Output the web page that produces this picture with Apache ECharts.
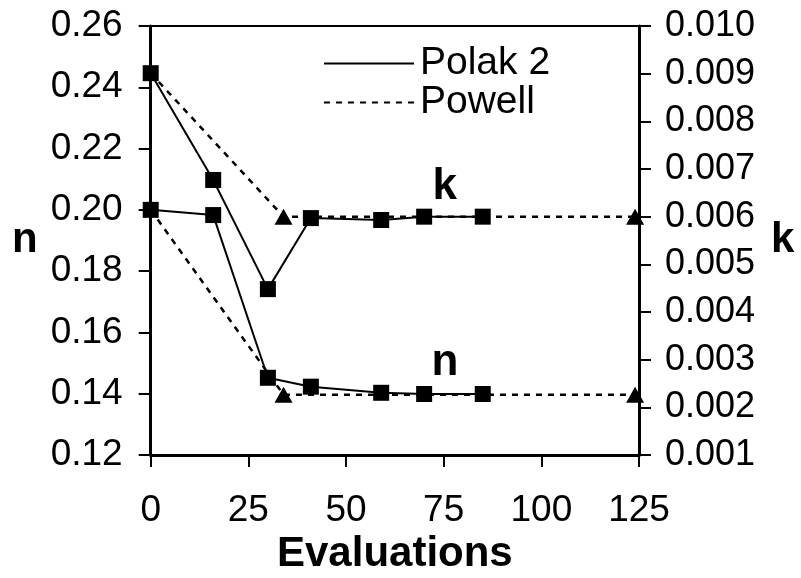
<!DOCTYPE html>
<html>
<head>
<meta charset="utf-8">
<script src="https://cdn.jsdelivr.net/npm/echarts@6/dist/echarts.min.js"></script>
<style>
  html, body { margin: 0; padding: 0; background: #fff; }
  #chart { width: 801px; height: 578px; }
</style>
</head>
<body>
<div id="chart"></div>
<script>
// evaluations (x) for each method
const polakEvals = [0, 16, 30, 41, 59, 70, 85];
const polakN = [0.2000, 0.1983, 0.1452, 0.1423, 0.1403, 0.1399, 0.1399];
const polakK = [0.00901, 0.00677, 0.00448, 0.00597, 0.00593, 0.00600, 0.00600];

const powellEvals = [0, 34, 124];
const powellN = [0.2000, 0.1397, 0.1397];
const powellK = [0.00901, 0.00600, 0.00600];

const xTicks = [0, 25, 50, 75, 100, 125];
const nTicks = [0.12, 0.14, 0.16, 0.18, 0.20, 0.22, 0.24, 0.26];
const kTicks = [0.001, 0.002, 0.003, 0.004, 0.005, 0.006, 0.007, 0.008, 0.009, 0.010];

const font = "'Liberation Sans', Arial, sans-serif";

function pairs(xs, ys, hideFirst) {
  return xs.map((x, i) => {
    if (hideFirst && i === 0) return { value: [x, ys[i]], symbol: "none" };
    return [x, ys[i]];
  });
}

const chart = echarts.init(document.getElementById("chart"));

const axisLine = { show: true, lineStyle: { color: "#000", width: 3 } };
const axisTick = { show: true, inside: false, length: 12, lineStyle: { color: "#000", width: 2 } };

const polakStyle = {
  type: "line",
  name: "Polak 2",
  symbol: "rect",
  symbolSize: 16,
  itemStyle: { color: "#000" },
  lineStyle: { color: "#000", width: 2, type: "solid" },
  z: 5,
  animation: false,
};
const powellStyle = {
  type: "line",
  name: "Powell",
  symbol: "triangle",
  symbolSize: [18, 16],
  itemStyle: { color: "#000" },
  lineStyle: { color: "#000", width: 2.5, type: [6, 6] },
  z: 3,
  animation: false,
};

const option = {
  backgroundColor: "#fff",
  textStyle: { fontFamily: font },
  grid: {
    left: 150.7, right: 162, top: 26, bottom: 123,
    containLabel: false,
    outerBoundsMode: "none",
    show: true, borderColor: "#000", borderWidth: 2,
  },
  legend: {
    orient: "vertical",
    left: 318,
    top: 39,
    itemWidth: 90,
    itemHeight: 10,
    itemGap: 0,
    itemStyle: { opacity: 0 },
    textStyle: { fontSize: 39, color: "#000", fontFamily: font, lineHeight: 38, padding: [0, 0, 0, 1] },
    data: ["Polak 2", "Powell"],
  },
  xAxis: {
    type: "value",
    min: xTicks[0],
    max: xTicks[xTicks.length - 1],
    interval: 25,
    name: "Evaluations",
    nameLocation: "middle",
    nameMoveOverlap: false,
    nameGap: 78,
    nameTextStyle: { fontSize: 42, fontWeight: "bold", color: "#000", fontFamily: font },
    axisLine: axisLine,
    axisTick: axisTick,
    splitLine: { show: false },
    axisLabel: { fontSize: 37, color: "#000", margin: 37, fontFamily: font },
  },
  yAxis: [
    {
      type: "value",
      position: "left",
      min: nTicks[0],
      max: nTicks[nTicks.length - 1],
      interval: 0.02,
      name: "n",
      nameLocation: "middle",
      nameMoveOverlap: false,
      nameRotate: 0,
      nameGap: 113,
      nameTextStyle: { fontSize: 42, fontWeight: "bold", color: "#000", fontFamily: font },
      axisLine: axisLine,
      axisTick: axisTick,
      splitLine: { show: false },
      axisLabel: {
        fontSize: 37, color: "#000", margin: 28, fontFamily: font,
        formatter: (v) => v.toFixed(2),
      },
    },
    {
      type: "value",
      position: "right",
      min: kTicks[0],
      max: kTicks[kTicks.length - 1],
      interval: 0.001,
      name: "k",
      nameLocation: "middle",
      nameMoveOverlap: false,
      nameRotate: 0,
      nameGap: 132,
      nameTextStyle: { fontSize: 42, fontWeight: "bold", color: "#000", fontFamily: font },
      axisLine: axisLine,
      axisTick: axisTick,
      splitLine: { show: false },
      axisLabel: {
        fontSize: 36, color: "#000", margin: 26, fontFamily: font,
        formatter: (v) => v.toFixed(3),
      },
    },
  ],
  series: [
    Object.assign({}, powellStyle, { yAxisIndex: 0, data: pairs(powellEvals, powellN, true) }),
    Object.assign({}, powellStyle, { yAxisIndex: 1, data: pairs(powellEvals, powellK, true) }),
    Object.assign({}, polakStyle, {
      yAxisIndex: 0,
      data: pairs(polakEvals, polakN),
      markPoint: {
        symbol: "circle", symbolSize: 1,
        itemStyle: { color: "transparent" },
        label: { show: true, formatter: "n", fontSize: 44, fontWeight: "bold", color: "#000", fontFamily: font },
        data: [{ coord: [75.3, 0.1502] }],
      },
    }),
    Object.assign({}, polakStyle, {
      yAxisIndex: 1,
      data: pairs(polakEvals, polakK),
      markPoint: {
        symbol: "circle", symbolSize: 1,
        itemStyle: { color: "transparent" },
        label: { show: true, formatter: "k", fontSize: 44, fontWeight: "bold", color: "#000", fontFamily: font },
        data: [{ coord: [75.3, 0.00662] }],
      },
    }),
  ],
};

chart.setOption(option);
</script>
</body>
</html>
